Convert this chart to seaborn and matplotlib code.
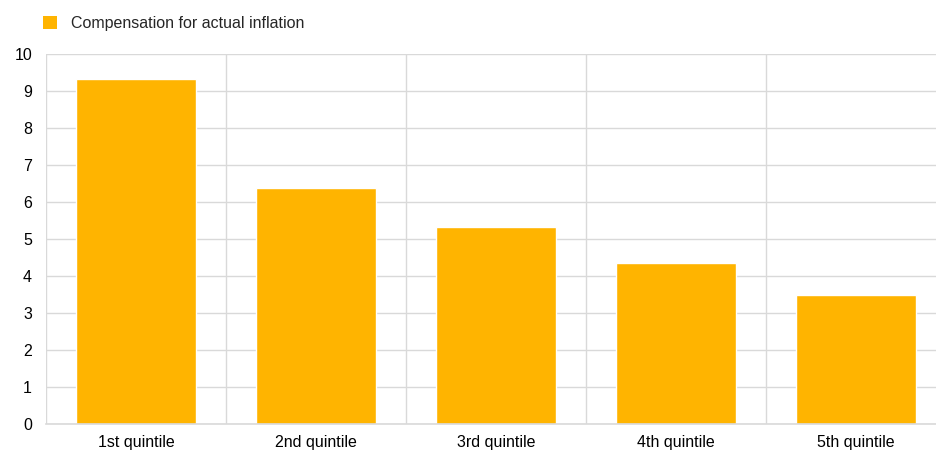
import numpy as np
import pandas as pd
import matplotlib
matplotlib.use("Agg")
import matplotlib.pyplot as plt
import seaborn as sns
from matplotlib.patches import Patch

categories = ["1st quintile", "2nd quintile", "3rd quintile", "4th quintile", "5th quintile"]
values = [9.33, 6.38, 5.32, 4.35, 3.49]
series_name = "Compensation for actual inflation"
y_ticks = [0, 1, 2, 3, 4, 5, 6, 7, 8, 9, 10]

BAR_COLOR = "#FFB400"
GRID_COLOR = "#D9D9D9"

sns.set_style("white")
plt.rcParams["font.family"] = ["Liberation Sans", "DejaVu Sans"]

df = pd.DataFrame({"category": categories, "value": values})

W, H = 937, 450
fig = plt.figure(figsize=(W / 100, H / 100), dpi=100)
ax = fig.add_axes([46 / W, 26 / H, 900 / W, 370 / H])

sns.barplot(data=df, x="category", y="value", color=BAR_COLOR, width=0.667,
            saturation=1, ax=ax, zorder=3)

ax.set_xlim(-0.5, len(categories) - 0.5)
ax.set_ylim(0, 10)
ax.set_yticks(y_ticks)
ax.set_xlabel("")
ax.set_ylabel("")

# vertical grid lines sit between categories
ax.set_xticks(np.arange(-0.5, len(categories), 1), minor=True)
ax.grid(True, which="minor", axis="x", color=GRID_COLOR, linewidth=1, zorder=0)
ax.grid(True, which="major", axis="y", color=GRID_COLOR, linewidth=1, zorder=0)
ax.tick_params(which="both", length=0)
ax.tick_params(axis="y", labelsize=11.5, colors="#000000", pad=10)
ax.tick_params(axis="x", labelsize=11.5, colors="#000000", pad=8)

for side in ["top", "right", "left"]:
    ax.spines[side].set_visible(False)
ax.spines["bottom"].set_color(GRID_COLOR)
ax.spines["bottom"].set_linewidth(1.2)
ax.spines["bottom"].set_zorder(4)

handle = Patch(facecolor=BAR_COLOR, edgecolor="none", label=series_name)
fig.legend(handles=[handle], loc="upper left", bbox_to_anchor=(37 / W, 1 - 10 / H),
           frameon=False, fontsize=11.5, handlelength=0.85, handleheight=0.85,
           handletextpad=0.85, borderaxespad=0)

fig.savefig("out.png", dpi=100)
